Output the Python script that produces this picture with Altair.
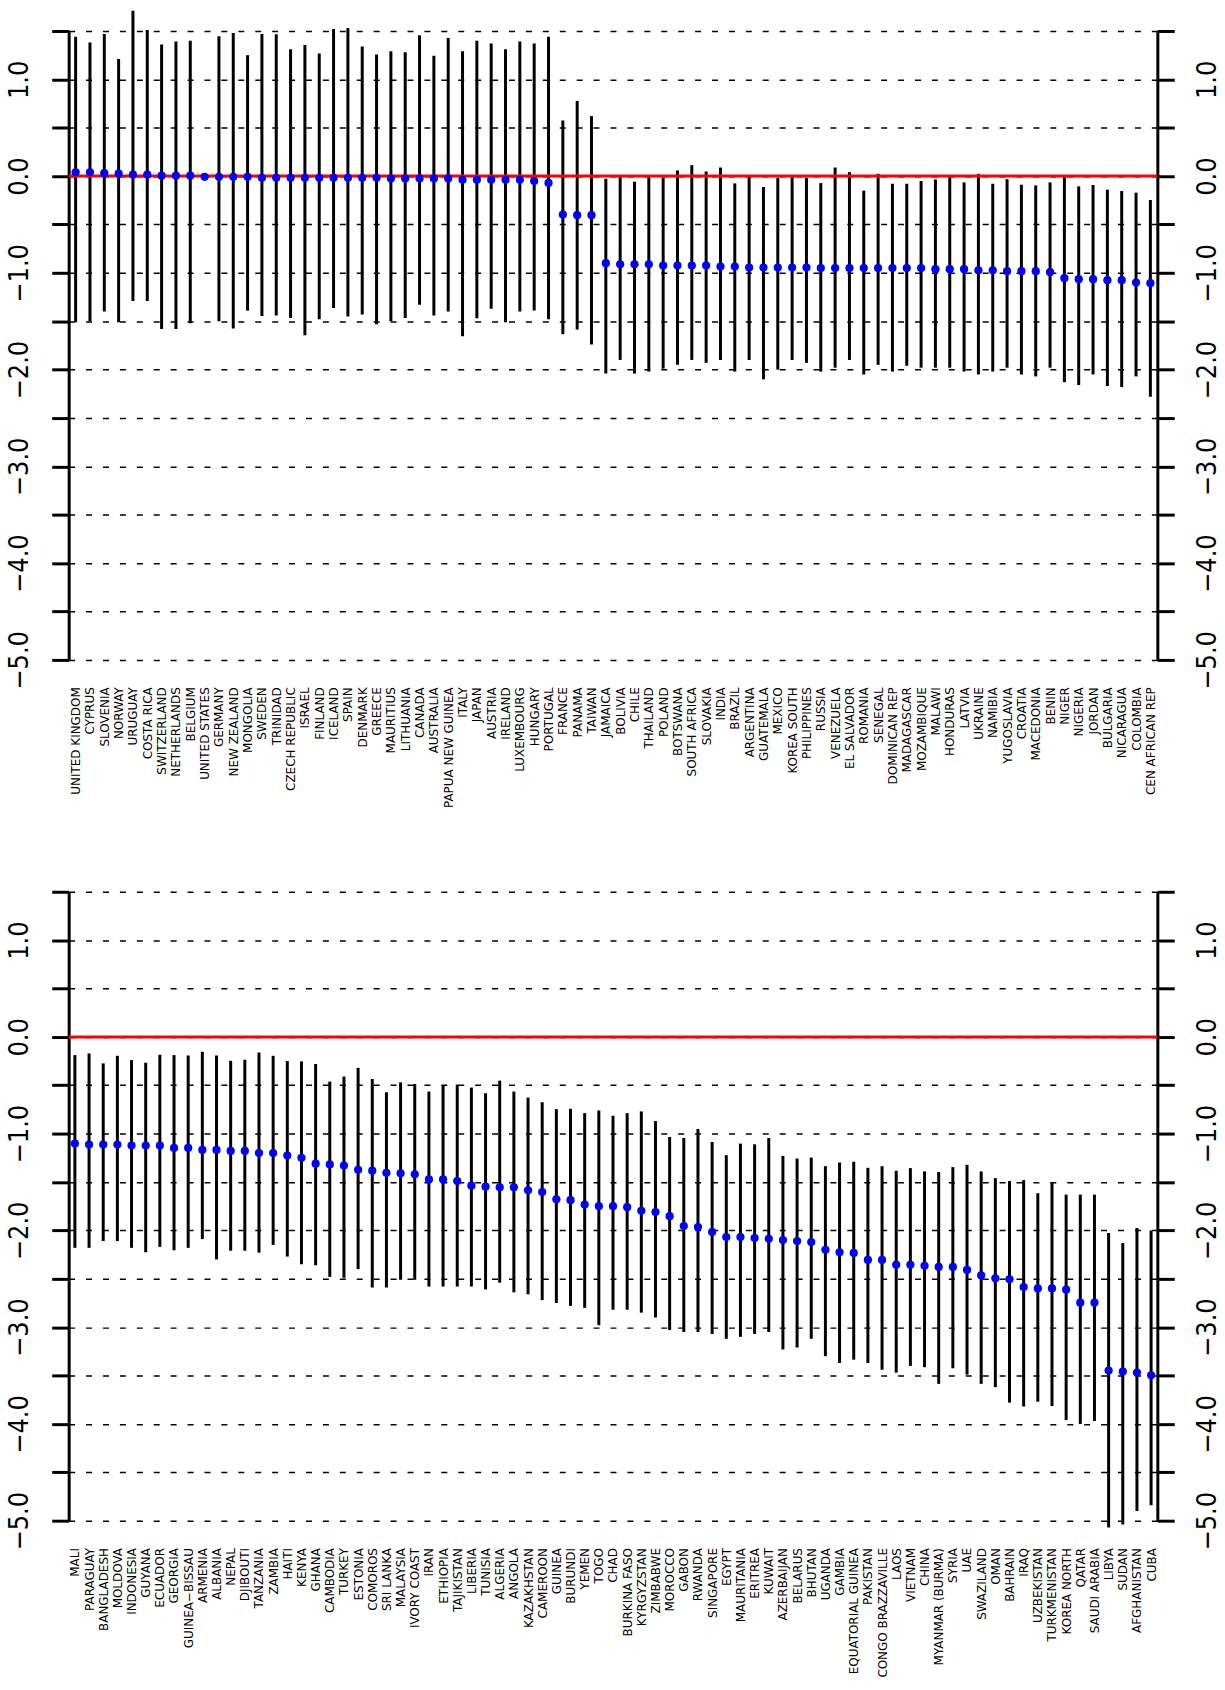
import altair as alt
import pandas as pd

top_names = ["UNITED KINGDOM","CYPRUS","SLOVENIA","NORWAY","URUGUAY","COSTA RICA","SWITZERLAND",
"NETHERLANDS","BELGIUM","UNITED STATES","GERMANY","NEW ZEALAND","MONGOLIA","SWEDEN","TRINIDAD",
"CZECH REPUBLIC","ISRAEL","FINLAND","ICELAND","SPAIN","DENMARK","GREECE","MAURITIUS","LITHUANIA",
"CANADA","AUSTRALIA","PAPUA NEW GUINEA","ITALY","JAPAN","AUSTRIA","IRELAND","LUXEMBOURG","HUNGARY",
"PORTUGAL","FRANCE","PANAMA","TAIWAN","JAMAICA","BOLIVIA","CHILE","THAILAND","POLAND","BOTSWANA",
"SOUTH AFRICA","SLOVAKIA","INDIA","BRAZIL","ARGENTINA","GUATEMALA","MEXICO","KOREA SOUTH",
"PHILIPPINES","RUSSIA","VENEZUELA","EL SALVADOR","ROMANIA","SENEGAL","DOMINICAN REP","MADAGASCAR",
"MOZAMBIQUE","MALAWI","HONDURAS","LATVIA","UKRAINE","NAMIBIA","YUGOSLAVIA","CROATIA","MACEDONIA",
"BENIN","NIGER","NIGERIA","JORDAN","BULGARIA","NICARAGUA","COLOMBIA","CEN AFRICAN REP"]

top_est = [0.04,0.04,0.03,0.025,0.015,0.015,0.005,0.005,0.005,-0.007,-0.007,-0.007,-0.007,-0.017,
-0.017,-0.017,-0.017,-0.017,-0.017,-0.017,-0.017,-0.017,-0.024,-0.024,-0.024,-0.024,-0.024,-0.038,
-0.038,-0.038,-0.038,-0.038,-0.05,-0.07,-0.397,-0.404,-0.404,-0.90,-0.911,-0.911,-0.911,-0.925,
-0.925,-0.925,-0.925,-0.935,-0.935,-0.945,-0.945,-0.945,-0.945,-0.945,-0.95,-0.95,-0.95,-0.95,
-0.95,-0.95,-0.95,-0.95,-0.962,-0.962,-0.962,-0.973,-0.973,-0.983,-0.983,-0.983,-0.993,-1.055,
-1.065,-1.065,-1.075,-1.075,-1.10,-1.106]

top_hi = [1.44,1.38,1.47,1.21,1.71,1.51,1.36,1.39,1.40,None,1.445,1.48,1.25,1.47,1.466,1.31,1.356,
1.267,1.52,1.53,1.34,1.257,1.29,1.28,1.455,1.243,1.428,1.29,1.40,1.37,1.31,1.39,1.37,1.44,0.575,
0.777,0.62,-0.027,0.0,-0.058,0.01,-0.017,0.058,0.113,0.048,0.089,-0.075,-0.007,-0.113,-0.017,0.01,
-0.017,-0.072,0.089,0.041,-0.15,0.024,-0.079,-0.079,-0.051,-0.034,-0.007,-0.065,0.024,-0.079,
-0.031,-0.089,-0.096,-0.065,0.007,-0.106,-0.092,-0.14,-0.154,-0.171,-0.247]

top_lo = [-1.51,-1.50,-1.40,-1.51,-1.29,-1.29,-1.58,-1.58,-1.52,None,-1.50,-1.575,-1.39,-1.445,
-1.44,-1.466,-1.644,-1.48,-1.363,-1.45,-1.43,-1.53,-1.5,-1.466,-1.33,-1.44,-1.40,-1.654,-1.47,
-1.37,-1.51,-1.40,-1.39,-1.48,-1.634,-1.586,-1.74,-2.04,-1.9,-2.04,-2.02,-1.99,-1.95,-1.9,-1.93,
-1.9,-2.02,-1.9,-2.1,-2.0,-1.9,-1.93,-2.02,-1.98,-1.9,-2.05,-1.95,-2.02,-1.96,-1.98,-1.98,-1.98,
-2.02,-2.05,-2.02,-1.98,-2.05,-2.07,-1.98,-2.13,-2.16,-2.05,-2.17,-2.18,-2.07,-2.28]

bot_names = ["MALI","PARAGUAY","BANGLADESH","MOLDOVA","INDONESIA","GUYANA","ECUADOR","GEORGIA",
"GUINEA\u2212BISSAU","ARMENIA","ALBANIA","NEPAL","DJIBOUTI","TANZANIA","ZAMBIA","HAITI","KENYA","GHANA",
"CAMBODIA","TURKEY","ESTONIA","COMOROS","SRI LANKA","MALAYSIA","IVORY COAST","IRAN","ETHIOPIA",
"TAJIKISTAN","LIBERIA","TUNISIA","ALGERIA","ANGOLA","KAZAKHSTAN","CAMEROON","GUINEA","BURUNDI",
"YEMEN","TOGO","CHAD","BURKINA FASO","KYRGYZSTAN","ZIMBABWE","MOROCCO","GABON","RWANDA",
"SINGAPORE","EGYPT","MAURITANIA","ERITREA","KUWAIT","AZERBAIJAN","BELARUS","BHUTAN","UGANDA",
"GAMBIA","EQUATORIAL GUINEA","PAKISTAN","CONGO BRAZZAVILLE","LAOS","VIETNAM","CHINA",
"MYANMAR (BURMA)","SYRIA","UAE","SWAZILAND","OMAN","BAHRAIN","IRAQ","UZBEKISTAN","TURKMENISTAN",
"KOREA NORTH","QATAR","SAUDI ARABIA","LIBYA","SUDAN","AFGHANISTAN","CUBA"]

bot_est = [-1.103,-1.113,-1.113,-1.113,-1.123,-1.123,-1.123,-1.147,-1.147,-1.168,-1.168,-1.178,
-1.178,-1.2,-1.2,-1.226,-1.25,-1.31,-1.318,-1.33,-1.373,-1.383,-1.404,-1.41,-1.42,-1.473,-1.473,
-1.49,-1.538,-1.548,-1.555,-1.555,-1.586,-1.603,-1.678,-1.688,-1.733,-1.75,-1.75,-1.76,-1.798,
-1.81,-1.853,-1.955,-1.966,-2.017,-2.068,-2.068,-2.079,-2.086,-2.1,-2.11,-2.12,-2.2,-2.226,
-2.233,-2.305,-2.305,-2.356,-2.356,-2.366,-2.377,-2.377,-2.408,-2.465,-2.495,-2.505,-2.586,-2.6,
-2.6,-2.613,-2.747,-2.747,-3.449,-3.459,-3.469,-3.497]

bot_hi = [-0.188,-0.171,-0.274,-0.195,-0.24,-0.267,-0.185,-0.188,-0.192,-0.154,-0.192,-0.247,
-0.236,-0.161,-0.195,-0.25,-0.253,-0.28,-0.462,-0.41,-0.32,-0.435,-0.572,-0.47,-0.486,-0.565,
-0.503,-0.493,-0.524,-0.582,-0.452,-0.565,-0.627,-0.675,-0.747,-0.743,-0.788,-0.76,-0.815,-0.788,
-0.77,-0.87,-1.034,-1.045,-0.952,-1.086,-1.223,-1.103,-1.11,-1.045,-1.23,-1.257,-1.247,-1.336,
-1.298,-1.29,-1.353,-1.336,-1.384,-1.356,-1.39,-1.397,-1.346,-1.322,-1.39,-1.459,-1.49,-1.48,
-1.616,-1.5,-1.63,-1.63,-1.63,-2.027,-2.13,-1.976,-2.0]

bot_lo = [-2.18,-2.18,-2.11,-2.11,-2.18,-2.226,-2.17,-2.205,-2.18,-2.09,-2.3,-2.21,-2.21,-2.23,
-2.15,-2.27,-2.35,-2.36,-2.48,-2.49,-2.4,-2.59,-2.59,-2.51,-2.51,-2.58,-2.58,-2.58,-2.58,-2.61,
-2.54,-2.64,-2.66,-2.72,-2.75,-2.78,-2.8,-2.98,-2.82,-2.82,-2.85,-2.9,-3.03,-3.05,-3.05,-3.07,
-3.12,-3.1,-3.07,-3.05,-3.23,-3.21,-3.12,-3.30,-3.37,-3.336,-3.37,-3.44,-3.47,-3.40,-3.414,
-3.586,-3.425,-3.49,-3.586,-3.62,-3.78,-3.82,-3.77,-3.815,-3.96,-4.0,-3.97,-5.07,-5.04,-4.9,-4.84]

y_ticks = [-5.0,-4.5,-4.0,-3.5,-3.0,-2.5,-2.0,-1.5,-1.0,-0.5,0.0,0.5,1.0,1.5]

NUM_FONT = "Liberation Sans Narrow, DejaVu Sans Condensed, sans-serif"
NAME_FONT = "DejaVu Sans"
LABEL_EXPR = "datum.value % 1 === 0 ? format(datum.value, '.1f') : ''"


def panel(names, est, lo, hi, pad):
    df = pd.DataFrame({"country": names, "est": est, "lo": lo, "hi": hi})
    yscale = alt.Scale(domain=[-5.0, 1.5], nice=False, zero=False)
    xenc = alt.X("country:N", sort=names,
                 scale=alt.Scale(type="point", padding=pad),
                 axis=alt.Axis(title=None, labelAngle=270, labelAlign="right",
                               labelBaseline="middle", labelPadding=27, ticks=False,
                               domain=False, grid=False, labelFont=NAME_FONT,
                               labelFontSize=12, labelColor="black",
                               labelOverlap=False, labelLimit=400))
    left_axis = alt.Axis(title=None, orient="left", values=y_ticks, labelExpr=LABEL_EXPR,
                         grid=True, gridDash=[6, 11], gridColor="black", gridWidth=1.5,
                         gridOpacity=1, domainWidth=3, domainColor="black", tickWidth=3,
                         tickSize=17, tickColor="black", labelAngle=270, labelAlign="center",
                         labelBaseline="bottom", labelPadding=18, labelFont=NUM_FONT,
                         labelFontSize=27, labelColor="black", labelOverlap=False)
    right_axis = alt.Axis(title=None, orient="right", values=y_ticks, labelExpr=LABEL_EXPR,
                          grid=False, domainWidth=3, domainColor="black", tickWidth=3,
                          tickSize=17, tickColor="black", labelAngle=270, labelAlign="center",
                          labelBaseline="top", labelPadding=20, labelFont=NUM_FONT,
                          labelFontSize=27, labelColor="black", labelOverlap=False)
    bars = alt.Chart(df).transform_filter("isValid(datum.lo)").mark_rule(
        color="black", strokeWidth=3).encode(
        x=xenc, y=alt.Y("lo:Q", scale=yscale, axis=left_axis), y2="hi:Q")
    zero = alt.Chart(pd.DataFrame({"z": [0.0]})).mark_rule(
        color="#ff0000", strokeWidth=3).encode(
        y=alt.Y("z:Q", scale=yscale, axis=right_axis))
    dots = alt.Chart(df).mark_circle(size=68, color="#0000ff", opacity=1).encode(
        x=xenc, y=alt.Y("est:Q", scale=yscale, axis=None))
    return alt.layer(bars, zero, dots).resolve_axis(y="independent").properties(
        width=1094, height=632)


top = panel(top_names, top_est, top_lo, top_hi, 0.486)
bottom = panel(bot_names, bot_est, bot_lo, bot_hi, 0.44)

chart = alt.vconcat(top, bottom, spacing=82).configure_view(stroke=None).properties(
    background="white")

chart.save("out.html", embed_options={"renderer": "svg", "actions": False})
